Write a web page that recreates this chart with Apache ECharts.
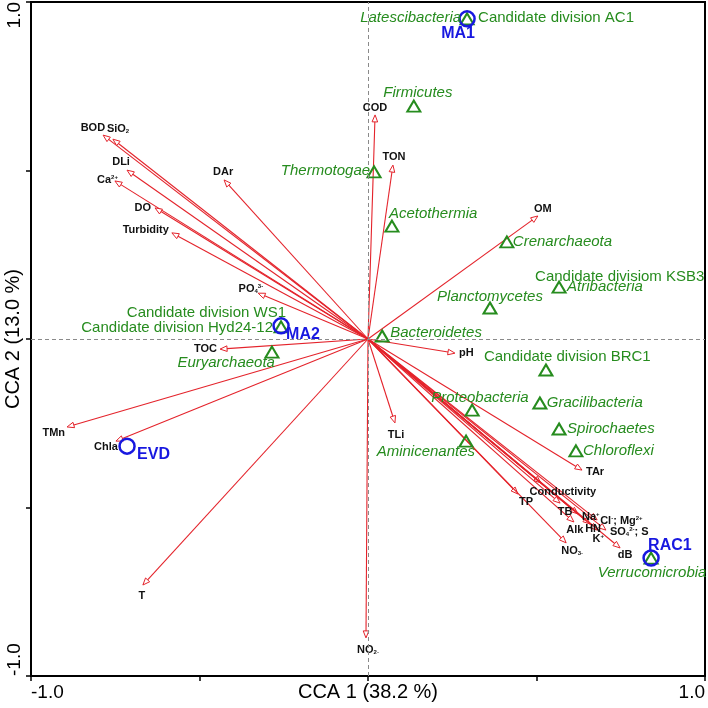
<!DOCTYPE html>
<html><head><meta charset="utf-8">
<script src="https://cdn.jsdelivr.net/npm/echarts@6/dist/echarts.min.js"></script>
<style>html,body{margin:0;padding:0;background:#fff}#c{width:708px;height:708px}</style>
</head><body><div id="c"></div>
<script>
// ---- Environmental variables (arrows) ----
const envLabels = ['BOD','SiO{b|2}','DLi','Ca{p|2+}','DO','Turbidity','DAr','PO{b|4}{p|3-}','TOC','TMn','Chla','T','NO{b|2-}',
  'COD','TON','OM','pH','TLi','TAr','TP','NO{b|3-}','Conductivity','TB','Na{p|+}','Alk','HN','K{p|+}','Cl{p|-}; Mg{p|2+}','SO{b|4}{p|2-}; S','dB'];
const envX = [-0.786,-0.757,-0.715,-0.751,-0.632,-0.582,-0.427,-0.326,-0.439,-0.893,-0.748,-0.668,-0.006,
  0.021,0.074,0.504,0.258,0.080,0.635,0.445,0.588,0.513,0.570,0.623,0.611,0.659,0.680,0.680,0.706,0.748];
const envY = [0.605,0.593,0.501,0.469,0.389,0.315,0.472,0.136,-0.030,-0.261,-0.303,-0.730,-0.887,
  0.665,0.516,0.365,-0.042,-0.249,-0.389,-0.460,-0.605,-0.427,-0.487,-0.519,-0.543,-0.549,-0.567,-0.537,-0.567,-0.620];

// ---- Sites ----
const siteNames = ['MA1','MA2','EVD','RAC1'];
const siteX = [0.294,-0.258,-0.715,0.840];
const siteY = [0.950,0.039,-0.318,-0.650];

// ---- Species ----
const speciesNames = ['Latescibacteria','Firmicutes','Thermotogae','Acetothermia','Crenarchaeota','Atribacteria','Planctomycetes',
  'Bacteroidetes','Candidate division BRC1','Proteobacteria','Gracilibacteria','Spirochaetes','Chloroflexi','Aminicenantes',
  'Euryarchaeota','Candidate division WS1','Verrucomicrobia'];
const speciesAltNames = ['Candidate division AC1','','','','','Candidate divisiom KSB3','','','','','','','','','','Candidate division Hyd24-12',''];
const speciesX = [0.294,0.136,0.018,0.071,0.412,0.567,0.362,0.042,0.528,0.309,0.510,0.567,0.617,0.291,-0.285,-0.258,0.840];
const speciesY = [0.950,0.691,0.496,0.335,0.288,0.154,0.092,0.009,-0.092,-0.211,-0.190,-0.267,-0.332,-0.303,-0.039,0.036,-0.650];

// ---- Layout / style (label placement in pixels) ----
const RED = '#E4232B', GREEN = '#268C1E', BLUE = '#1818E0';
const envLabelLayout = [
  ['right',2,-7],['left',-6,-10],['center',-6,-8],['right',3,-1],['right',-4,0],['right',-3,-3],['center',-1,-8],
  ['right',5,-4],['right',-3,0],['right',-2,6],['right',2,6],['center',-1,11],['center',2,12],
  ['center',0,-7],['center',1,-8],['center',5,-7],['left',4,0],['center',1,12],['left',4,2],['center',8,8],
  ['center',6,8],['center',22,9],['center',5,9],['left',4,3],['center',1,8],['center',3,5],['center',1,9],
  ['left',3,1],['left',4,2],['center',5,7]
];
// [align, dx, dy, italic] for main name; alt name
const spLayout = [
  ['right',-6,-1,true],['center',4,-13,true],['right',-4,-1,true],['left',-3,-12,true],['left',6,0,true],['left',8,0,true],
  ['center',0,-11,true],['left',8,-3,true],['left',-62,-13,false],['left',-41,-12,true],['left',7,0,true],['left',8,0,true],
  ['left',7,0,true],['right',9,11,true],['right',3,11,true],['right',5,-14,false],['center',1,15,true]
];
const spAltLayout = {0:['left',11,-1],5:['left',-24,-10],15:['right',-8,1]};
const siteLayout = [['center',-9,15],['left',5,9],['left',10,8],['left',-3,-12]];

const FONT = 'Liberation Sans, Arial, sans-serif';

const chart = echarts.init(document.getElementById('c'));

const axisCommon = {
  type:'value', min:-1, max:1, interval:0.5,
  splitLine:{show:false},
  axisLine:{onZero:false, lineStyle:{color:'#000', width:2}},
  axisTick:{length:5, lineStyle:{color:'#000', width:1.5}},
  axisLabel:{formatter:v => (v === -1 || v === 1) ? v.toFixed(1) : '', color:'#000', fontSize:19, fontFamily:FONT,
    showMinLabel:true, showMaxLabel:true, alignMinLabel:'left', alignMaxLabel:'right'},
  nameLocation:'middle',
  nameMoveOverlap:false,
  nameTextStyle:{color:'#000', fontSize:20, fontFamily:FONT}
};

const option = {
  animation:false,
  backgroundColor:'#fff',
  grid:{left:31, right:3, top:2, bottom:32, show:true, borderColor:'#000', borderWidth:2, outerBoundsMode:'none', containLabel:false},
  xAxis:Object.assign({}, axisCommon, {name:'CCA 1 (38.2 %)', nameGap:6,
    axisLabel:Object.assign({}, axisCommon.axisLabel, {margin:7})}),
  yAxis:Object.assign({}, axisCommon, {name:'CCA 2 (13.0 %)', nameGap:8,
    axisLabel:Object.assign({}, axisCommon.axisLabel, {rotate:90, margin:7})}),
  series:[
    {
      type:'scatter', symbolSize:0, data:[[0,0]], silent:true, z:1,
      markLine:{silent:true, symbol:'none', label:{show:false}, animation:false,
        lineStyle:{type:[4,3], color:'#8a8a8a', width:1},
        data:[{xAxis:0},{yAxis:0}]}
    },
    {
      type:'custom', z:3, clip:false,
      data:envX.map((x,i)=>[x, envY[i]]),
      renderItem:(params, api) => {
        const i = params.dataIndex;
        const o = api.coord([0,0]);
        const p = api.coord([api.value(0), api.value(1)]);
        const dx = p[0]-o[0], dy = p[1]-o[1];
        const L = Math.hypot(dx,dy) || 1;
        const ux = dx/L, uy = dy/L;
        const hl = 7, hw = 2.8;
        const bx = p[0]-ux*hl, by = p[1]-uy*hl;
        const lay = envLabelLayout[i];
        return {type:'group', children:[
          {type:'line', shape:{x1:o[0], y1:o[1], x2:bx, y2:by}, style:{stroke:RED, lineWidth:1.1}},
          {type:'polygon', shape:{points:[[p[0],p[1]],[bx-uy*hw, by+ux*hw],[bx+uy*hw, by-ux*hw]]},
            style:{fill:'rgba(255,255,255,0.9)', stroke:RED, lineWidth:1}},
          {type:'text', x:p[0]+lay[1], y:p[1]+lay[2], z2:5,
            style:{text:envLabels[i], fill:'#111', fontSize:11, fontWeight:'bold', fontFamily:FONT,
              align:lay[0], verticalAlign:'middle',
              rich:{b:{fontSize:6, fontWeight:'bold', verticalAlign:'bottom', fontFamily:FONT, fill:'#111'},
                    p:{fontSize:6, fontWeight:'bold', verticalAlign:'top', fontFamily:FONT, fill:'#111'}}}}
        ]};
      }
    },
    {
      type:'scatter', z:4, symbol:'triangle', symbolSize:[13,11],
      itemStyle:{color:'rgba(0,0,0,0)', borderColor:GREEN, borderWidth:2, opacity:1},
      data:speciesX.map((x,i)=>[x, speciesY[i]])
    },
    {
      type:'scatter', z:5, symbol:'circle', symbolSize:15,
      itemStyle:{color:'rgba(0,0,0,0)', borderColor:BLUE, borderWidth:2.5, opacity:1},
      data:siteX.map((x,i)=>[x, siteY[i]])
    },
    {
      type:'custom', z:6, clip:false,
      data:speciesX.map((x,i)=>[x, speciesY[i]]),
      renderItem:(params, api) => {
        const i = params.dataIndex;
        const p = api.coord([api.value(0), api.value(1)]);
        const l = spLayout[i];
        const children = [{type:'text', x:p[0]+l[1], y:p[1]+l[2],
          style:{text:speciesNames[i], fill:GREEN, fontSize:15, fontStyle:l[3]?'italic':'normal', fontFamily:FONT,
            align:l[0], verticalAlign:'middle'}}];
        if (speciesAltNames[i]) {
          const a = spAltLayout[i];
          children.push({type:'text', x:p[0]+a[1], y:p[1]+a[2],
            style:{text:speciesAltNames[i], fill:GREEN, fontSize:15, fontFamily:FONT, align:a[0], verticalAlign:'middle'}});
        }
        return {type:'group', children};
      }
    },
    {
      type:'custom', z:7, clip:false,
      data:siteX.map((x,i)=>[x, siteY[i]]),
      renderItem:(params, api) => {
        const i = params.dataIndex;
        const p = api.coord([api.value(0), api.value(1)]);
        const l = siteLayout[i];
        return {type:'text', x:p[0]+l[1], y:p[1]+l[2],
          style:{text:siteNames[i], fill:BLUE, fontSize:16, fontWeight:'bold', fontFamily:FONT, align:l[0], verticalAlign:'middle'}};
      }
    }
  ]
};
chart.setOption(option);
</script></body></html>
